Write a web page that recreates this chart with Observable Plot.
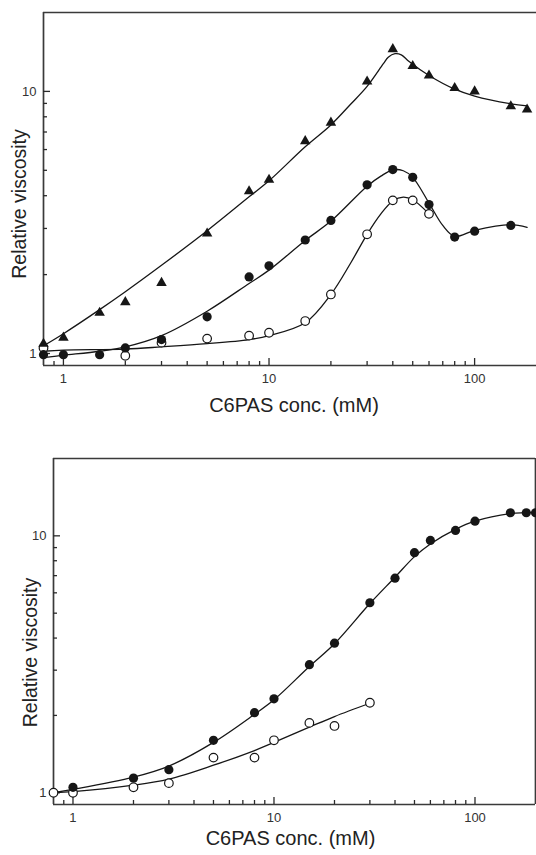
<!DOCTYPE html>
<html><head><meta charset="utf-8">
<script src="https://cdn.jsdelivr.net/npm/d3@7"></script>
<script src="https://cdn.jsdelivr.net/npm/@observablehq/plot@0.6"></script>
<style>
body{margin:0;background:#fff;width:536px;height:855px;overflow:hidden;position:relative}
#top,#bot{position:absolute;left:0}
#top{top:0}
#bot{top:430px}
</style>
</head><body><div id="top"></div><div id="bot"></div>
<script>
// ---- tick values
const xMajor = [1, 10, 100];
const xMinor = [0.9, 2, 3, 4, 5, 6, 7, 8, 9, 20, 30, 40, 50, 60, 70, 80, 90];
const yMajor = [1, 10];
const yMinor = [2, 3, 4, 5, 6, 7, 8, 9];
const yTitle = "Relative viscosity";
const xTitle = "C6PAS conc. (mM)";

// ---- top panel data (measured points)
const triX = [0.8, 1, 1.5, 2, 3, 5, 8, 10, 15, 20, 30, 40, 50, 60, 80, 100, 150, 180];
const triY = [1.09, 1.15, 1.43, 1.57, 1.86, 2.87, 4.16, 4.6, 6.46, 7.6, 10.9, 14.5, 12.5, 11.5, 10.3, 10.0, 8.77, 8.53];
const fillX = [0.8, 1, 1.5, 2, 3, 5, 8, 10, 15, 20, 30, 40, 50, 60, 80, 100, 150];
const fillY = [0.99, 0.99, 0.99, 1.05, 1.13, 1.38, 1.96, 2.16, 2.71, 3.22, 4.4, 5.03, 4.7, 3.7, 2.78, 2.93, 3.08];
const openX = [0.8, 2, 3, 5, 8, 10, 15, 20, 30, 40, 50, 60];
const openY = [1.05, 0.98, 1.1, 1.14, 1.17, 1.2, 1.33, 1.68, 2.85, 3.84, 3.84, 3.41];
// ---- top panel fitted curves
const triFitX = [0.8, 1, 1.5, 2, 3, 5, 8, 10, 15, 20, 25, 30, 36, 38, 41, 44, 48, 60, 80, 100, 150, 180];
const triFitY = [1.07, 1.19, 1.47, 1.72, 2.17, 2.94, 3.96, 4.56, 6.15, 7.45, 8.95, 10.45, 12.76, 13.5, 13.93, 13.79, 13.0, 11.5, 10.2, 9.6, 8.97, 8.8];
const fillFitX = [0.8, 1, 1.5, 2, 3, 5, 8, 10, 15, 20, 30, 35, 40, 45, 50, 60, 70, 80, 100, 150, 180];
const fillFitY = [0.965, 0.985, 1.02, 1.06, 1.17, 1.45, 1.85, 2.08, 2.7, 3.2, 4.35, 4.75, 5.02, 4.98, 4.7, 3.75, 3.08, 2.8, 2.95, 3.1, 3.03];
const openFitX = [0.8, 1, 2, 3, 5, 8, 10, 15, 20, 25, 30, 35, 40, 45, 50, 60];
const openFitY = [1.02, 1.03, 1.04, 1.06, 1.09, 1.13, 1.17, 1.31, 1.68, 2.22, 2.85, 3.41, 3.82, 3.95, 3.86, 3.41];

// ---- bottom panel data (measured points)
const bFillX = [1, 2, 3, 5, 8, 10, 15, 20, 30, 40, 50, 60, 80, 100, 150, 180, 200];
const bFillY = [1.05, 1.14, 1.23, 1.6, 2.05, 2.32, 3.15, 3.82, 5.49, 6.84, 8.6, 9.6, 10.5, 11.4, 12.3, 12.3, 12.3];
const bOpenX = [0.8, 1, 2, 3, 5, 8, 10, 15, 20, 30];
const bOpenY = [1.0, 1.0, 1.05, 1.09, 1.37, 1.37, 1.6, 1.87, 1.82, 2.24];
// ---- bottom panel fitted curves
const bFillFitX = [0.8, 1, 2, 3, 5, 8, 10, 15, 20, 30, 40, 50, 60, 80, 100, 150, 200];
const bFillFitY = [1.0, 1.03, 1.15, 1.27, 1.57, 2.02, 2.3, 3.1, 3.8, 5.45, 6.9, 8.3, 9.3, 10.6, 11.4, 12.2, 12.35];
const bOpenFitX = [0.8, 1, 2, 3, 5, 8, 10, 15, 20, 30];
const bOpenFitY = [1.0, 1.01, 1.07, 1.13, 1.28, 1.46, 1.57, 1.8, 1.98, 2.23];

const pts = (xs, ys) => xs.map((x, i) => ({x, y: ys[i]}));
const ink = "#161616";
const frameCol = "#3a3a3a";
const tickCol = "#2a2a2a";
const blank = () => "";

function frameAndAxes(o) {
  const m = [
    // frame
    Plot.ruleY([0.9], {stroke: frameCol, strokeWidth: 1.7}),
    Plot.ruleY([20], {stroke: frameCol, strokeWidth: 1.7}),
    Plot.ruleX([0.8], {stroke: frameCol, strokeWidth: 1.7}),
    // inward tick marks: outward ticks shifted back inside the frame
    Plot.axisX(xMajor, {tickSize: 7, dy: -7, tickFormat: blank, label: null, stroke: tickCol, strokeWidth: 1.3}),
    Plot.axisX(xMinor, {tickSize: 4, dy: -4, tickFormat: blank, label: null, stroke: tickCol, strokeWidth: 1.3}),
    Plot.axisY(yMajor, {tickSize: 7, dx: 7, tickFormat: blank, label: null, stroke: tickCol, strokeWidth: 1.3}),
    Plot.axisY(yMinor, {tickSize: 4, dx: 4, tickFormat: blank, label: null, stroke: tickCol, strokeWidth: 1.3}),
    // tick labels
    Plot.axisX(xMajor, {tickSize: 0, tickPadding: 8, fontSize: 13, tickFormat: d => String(d), label: null}),
    Plot.axisY(yMajor, {tickSize: 0, tickPadding: 7, fontSize: 13, tickFormat: d => String(d), label: null}),
    // titles
    Plot.text([yTitle], {text: d => d, frameAnchor: "left", textAnchor: "middle", dx: o.yDx, dy: o.yDy, rotate: -90, fontSize: 19.5, fill: "#222"}),
    Plot.text([xTitle], {text: d => d, frameAnchor: "bottom", textAnchor: "middle", dy: o.xDy, dx: o.xDx, fontSize: 20, fill: "#222"})
  ];
  if (o.right) m.push(Plot.ruleX([200], {stroke: frameCol, strokeWidth: 1.7}));
  return m;
}

const common = {
  width: 536,
  x: {type: "log", domain: [0.8, 200]},
  y: {type: "log", domain: [0.9, 20]},
  style: {fontFamily: "'Liberation Sans', Arial, sans-serif", color: "#333", background: "transparent", overflow: "visible"}
};

const topChart = Plot.plot({
  ...common,
  height: 430, marginTop: 12, marginLeft: 43, marginRight: 0, marginBottom: 65,
  marks: [
    ...frameAndAxes({yDx: -24, yDy: 15, xDy: 46, xDx: 4, right: false}),
    Plot.line(pts(triFitX, triFitY), {x: "x", y: "y", curve: "catmull-rom", stroke: ink, strokeWidth: 1.3}),
    Plot.line(pts(fillFitX, fillFitY), {x: "x", y: "y", curve: "catmull-rom", stroke: ink, strokeWidth: 1.3}),
    Plot.line(pts(openFitX, openFitY), {x: "x", y: "y", curve: "catmull-rom", stroke: ink, strokeWidth: 1.3}),
    Plot.dot(pts(openX, openY), {x: "x", y: "y", r: 4.3, fill: "white", stroke: ink, strokeWidth: 1.2}),
    Plot.dot(pts(fillX, fillY), {x: "x", y: "y", r: 4.6, fill: ink, stroke: "none"}),
    Plot.dot(pts(triX, triY), {x: "x", y: "y", r: 3.9, symbol: "triangle", fill: ink, stroke: "none"})
  ]
});
document.getElementById("top").append(topChart);

const botChart = Plot.plot({
  ...common,
  height: 425, marginTop: 28, marginLeft: 53, marginRight: 1, marginBottom: 51,
  marks: [
    ...frameAndAxes({yDx: -23, yDy: 21, xDy: 40, xDx: -4, right: true}),
    Plot.line(pts(bFillFitX, bFillFitY), {x: "x", y: "y", curve: "catmull-rom", stroke: ink, strokeWidth: 1.3}),
    Plot.line(pts(bOpenFitX, bOpenFitY), {x: "x", y: "y", curve: "catmull-rom", stroke: ink, strokeWidth: 1.3}),
    Plot.dot(pts(bOpenX, bOpenY), {x: "x", y: "y", r: 4.3, fill: "white", stroke: ink, strokeWidth: 1.2}),
    Plot.dot(pts(bFillX, bFillY), {x: "x", y: "y", r: 4.6, fill: ink, stroke: "none"})
  ]
});
document.getElementById("bot").append(botChart);
</script>
</body></html>
